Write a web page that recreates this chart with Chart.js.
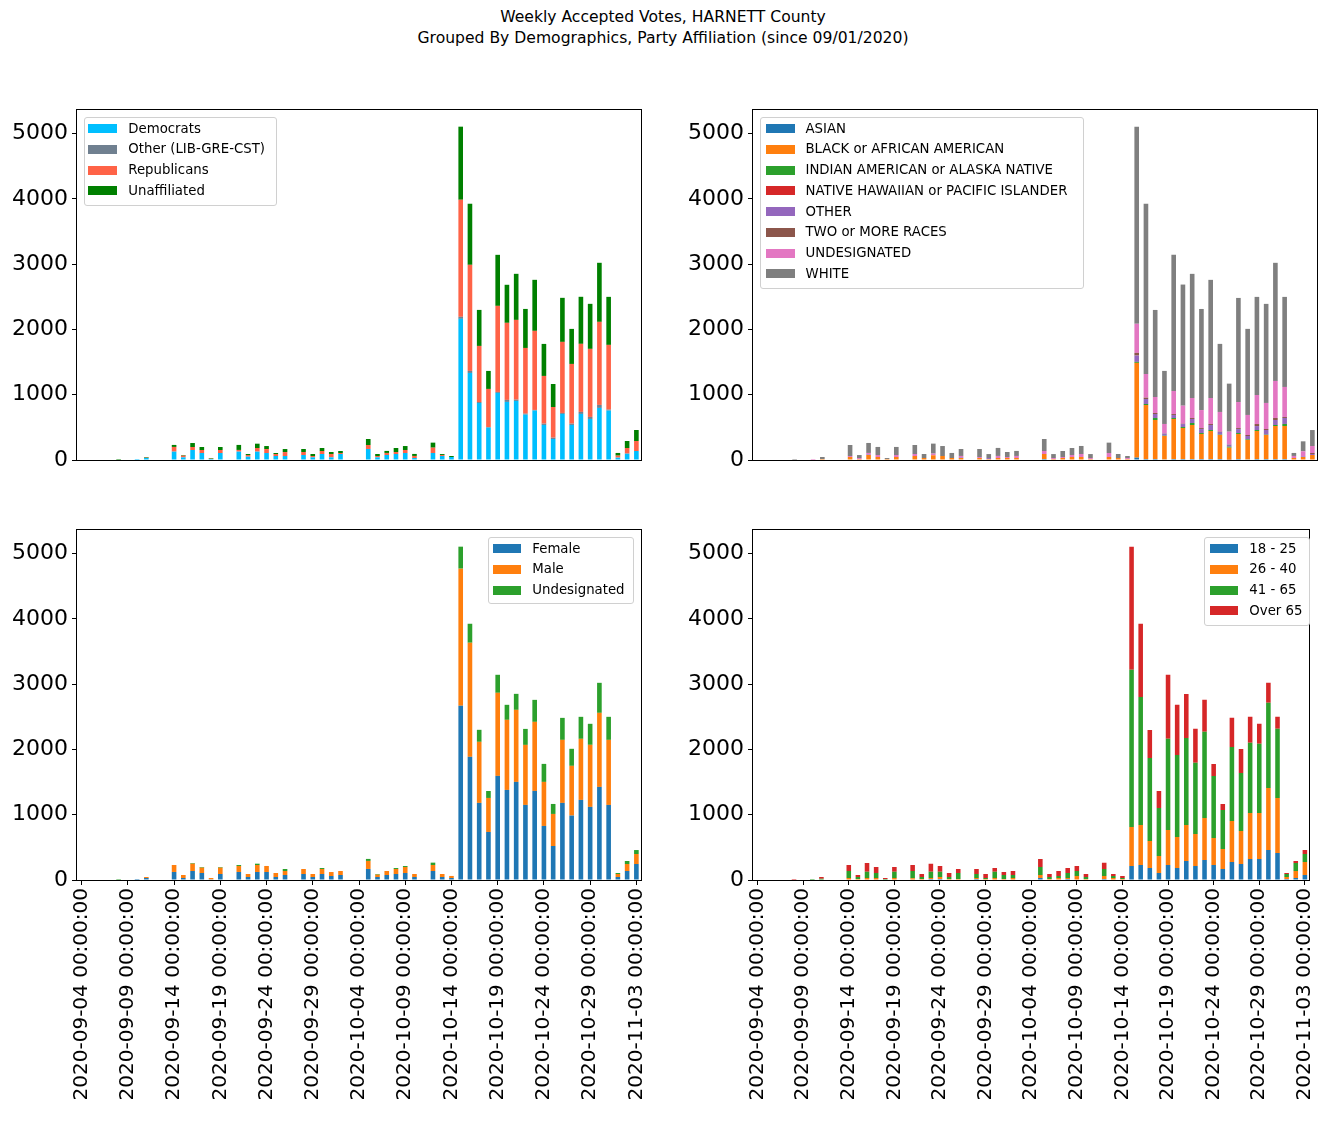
<!DOCTYPE html>
<html><head><meta charset="utf-8">
<script src="https://cdn.jsdelivr.net/npm/chart.js@4.4.1/dist/chart.umd.min.js"></script>
<style>
html,body{margin:0;padding:0;background:#fff;}
body{width:1332px;height:1137px;position:relative;overflow:hidden;font-family:"DejaVu Sans",sans-serif;color:#000;}
canvas{position:absolute;}
#title{position:absolute;left:-3px;width:1332px;top:7px;text-align:center;font-size:15.6px;line-height:21px;}
.legend{position:absolute;border:1px solid #d0d0d0;border-radius:3px;background:rgba(255,255,255,0.8);box-sizing:border-box;}
.patch{position:absolute;height:9px;}
.ltext{position:absolute;font-size:13.3px;line-height:16px;white-space:nowrap;}
</style></head>
<body>
<div id="title">Weekly Accepted Votes, HARNETT County<br>Grouped By Demographics, Party Affiliation (since 09/01/2020)</div>
<canvas id="c1" width="670" height="400" style="left:0;top:90px"></canvas>
<canvas id="c2" width="662" height="400" style="left:670px;top:90px"></canvas>
<canvas id="c3" width="670" height="627" style="left:0;top:510px"></canvas>
<canvas id="c4" width="662" height="627" style="left:670px;top:510px"></canvas>
<script>
// ---------- categories ----------
const dates = [
"2020-09-04 00:00:00","2020-09-05 00:00:00","2020-09-06 00:00:00","2020-09-07 00:00:00","2020-09-08 00:00:00",
"2020-09-09 00:00:00","2020-09-10 00:00:00","2020-09-11 00:00:00","2020-09-12 00:00:00","2020-09-13 00:00:00",
"2020-09-14 00:00:00","2020-09-15 00:00:00","2020-09-16 00:00:00","2020-09-17 00:00:00","2020-09-18 00:00:00",
"2020-09-19 00:00:00","2020-09-20 00:00:00","2020-09-21 00:00:00","2020-09-22 00:00:00","2020-09-23 00:00:00",
"2020-09-24 00:00:00","2020-09-25 00:00:00","2020-09-26 00:00:00","2020-09-27 00:00:00","2020-09-28 00:00:00",
"2020-09-29 00:00:00","2020-09-30 00:00:00","2020-10-01 00:00:00","2020-10-02 00:00:00","2020-10-03 00:00:00",
"2020-10-04 00:00:00","2020-10-05 00:00:00","2020-10-06 00:00:00","2020-10-07 00:00:00","2020-10-08 00:00:00",
"2020-10-09 00:00:00","2020-10-10 00:00:00","2020-10-11 00:00:00","2020-10-12 00:00:00","2020-10-13 00:00:00",
"2020-10-14 00:00:00","2020-10-15 00:00:00","2020-10-16 00:00:00","2020-10-17 00:00:00","2020-10-18 00:00:00",
"2020-10-19 00:00:00","2020-10-20 00:00:00","2020-10-21 00:00:00","2020-10-22 00:00:00","2020-10-23 00:00:00",
"2020-10-24 00:00:00","2020-10-25 00:00:00","2020-10-26 00:00:00","2020-10-27 00:00:00","2020-10-28 00:00:00",
"2020-10-29 00:00:00","2020-10-30 00:00:00","2020-10-31 00:00:00","2020-11-01 00:00:00","2020-11-02 00:00:00",
"2020-11-03 00:00:00"];
const tickEvery = 5;
const yTickStep = 1000;

// ---------- party ----------
const democrats = [0,0,0,0,0,0,15,31,0,0, 128,41,153,107,15,107,0,128,51,128, 107,61,61,0,77,41,92,41,92,0,
  0,169,41,77,92,107,31,0,107,61, 46,2163,1334,874,496,1028,890,905,695,757, 537,322,706,537,706,629,798,757,36,97, 138];
const otherParty = [0,0,0,0,0,0,0,0,0,0, 0,0,0,0,0,0,0,0,0,0, 0,0,0,0,0,0,0,0,0,0,
  0,0,0,0,0,0,0,0,0,0, 0,31,31,15,10,15,31,20,15,10, 20,20,15,20,31,31,46,15,0,0, 0];
const republicans = [0,0,0,0,0,0,0,5,0,0, 72,26,46,46,5,46,0,26,26,56, 61,31,61,0,46,20,46,51,15,0,
  0,61,20,31,31,46,31,0,82,15, 0,1794,1626,859,583,1319,1181,1222,1007,1212, 731,470,1089,915,1043,1043,1273,992,31,87, 153];
const unaffiliated = [0,0,0,0,15,0,0,10,0,0, 31,10,61,46,10,46,0,77,15,66, 46,15,46,0,46,31,46,31,31,0,
  0,92,31,31,61,61,31,0,77,15, 15,1120,936,552,276,782,583,706,598,782, 491,353,675,537,721,690,905,736,41,107, 169];

// ---------- race ----------
const asian = [0,0,0,0,0,0,0,0,0,0, 0,0,0,0,0,0,0,0,0,0, 0,0,0,0,0,0,0,0,0,0,
  0,15,0,0,0,0,0,0,0,0, 0,36,15,15,10,15,15,15,15,15, 15,5,15,10,15,15,15,15,0,0, 0];
const black = [0,0,0,0,0,0,0,15,0,0, 46,15,77,46,15,46,0,61,31,72, 61,31,31,0,31,15,31,31,31,0,
  0,77,15,31,46,46,15,0,46,31, 15,1452,828,598,358,613,475,521,383,429, 368,184,383,297,429,368,506,506,31,46, 77];
const indian = [0,0,0,0,0,0,0,0,0,0, 0,0,0,0,0,0,0,0,0,0, 0,0,0,0,0,0,0,0,0,0,
  0,0,0,0,0,0,0,0,0,0, 0,15,15,31,5,15,15,31,15,15, 5,15,15,10,15,5,15,31,0,0, 0];
const hawaiian = [0,0,0,0,0,0,0,0,0,0, 0,0,0,0,0,0,0,0,0,0, 0,0,0,0,0,0,0,0,0,0,
  0,0,0,0,0,0,0,0,0,0, 0,0,0,0,0,0,0,0,0,0, 0,0,0,0,0,0,0,0,0,0, 0];
const otherRace = [0,0,0,0,0,0,0,0,0,0, 0,0,10,0,0,0,0,0,0,0, 0,0,10,0,0,15,0,0,0,0,
  0,0,0,0,0,0,0,0,0,0, 0,97,77,61,31,46,46,61,61,77, 41,31,61,51,61,72,77,92,0,10, 15];
const twoRaces = [0,0,0,0,0,0,0,0,0,0, 0,0,0,0,0,0,0,0,0,0, 0,0,0,0,0,0,0,0,0,0,
  0,0,0,0,0,0,0,0,0,0, 0,41,20,15,5,15,5,15,15,15, 5,5,15,15,31,15,31,15,0,0, 15];
const undesRace = [0,0,0,0,0,0,15,0,0,0, 15,15,21,31,0,31,0,31,0,26, 0,0,21,0,15,0,31,15,31,0,
  0,46,15,15,31,46,15,0,61,0, 15,445,363,245,143,353,276,307,276,399, 302,194,399,307,445,399,567,460,31,77, 107];
const white = [0,0,0,0,15,0,0,31,0,0, 169,46,153,123,15,123,0,138,61,153, 153,77,107,0,123,61,123,77,77,0,
  0,184,61,92,107,123,61,0,159,61, 31,3021,2607,1334,813,2086,1856,1902,1549,1810, 1043,736,1595,1319,1503,1518,1810,1380,46,153, 245];

// ---------- gender ----------
const female = [0,0,0,0,0,0,15,31,0,0, 123,31,138,107,10,92,0,123,46,123, 123,46,77,0,92,46,92,61,77,0,
  0,169,46,77,92,107,46,0,138,46, 31,2669,1887,1181,736,1595,1380,1503,1150,1365, 828,521,1181,987,1227,1120,1426,1150,46,138, 245];
const male = [0,0,0,0,0,0,0,15,0,0, 107,46,112,82,21,97,0,92,46,107, 92,61,61,0,77,46,77,61,61,0,
  0,123,36,61,77,92,46,0,92,46, 31,2101,1748,936,521,1273,1074,1104,920,1058, 675,491,966,762,936,951,1135,997,46,107, 153];
const undesGender = [0,0,0,0,15,0,0,0,0,0, 0,0,10,10,0,10,0,15,0,20, 0,0,31,0,0,0,15,0,0,0,
  0,31,10,0,15,15,0,0,36,0, 0,337,291,184,107,276,230,245,245,337, 276,153,337,261,337,322,460,353,15,46, 61];

// ---------- age ----------
const age18_25 = [0,0,0,0,0,0,0,0,0,0, 0,0,0,0,0,0,0,0,0,15, 15,0,0,0,15,0,0,0,0,0,
  0,31,0,0,15,0,0,0,15,0, 0,215,230,184,107,230,184,291,215,307, 230,169,276,245,322,322,460,414,15,31, 77];
const age26_40 = [0,0,0,0,0,0,0,0,0,0, 31,15,31,31,0,31,0,26,15,15, 31,15,15,0,15,15,31,15,31,0,
  0,46,15,31,15,61,15,0,46,31, 15,598,613,414,261,537,475,552,491,644, 414,307,629,506,706,706,951,844,31,107, 199];
const age41_65 = [0,0,0,0,0,0,15,20,0,0, 107,31,97,77,15,97,0,112,31,97, 82,31,92,0,61,15,97,61,46,0,
  0,123,31,31,77,77,31,0,107,31, 15,2408,1963,1273,736,1396,1258,1334,1089,1319, 951,598,1135,890,1074,1058,1304,1058,46,123, 123];
const over65 = [0,0,0,0,15,0,0,26,0,0, 92,31,133,92,15,72,0,92,46,123, 87,61,61,0,77,61,56,46,61,0,
  0,123,46,77,77,77,46,0,97,31, 31,1887,1120,429,261,982,767,675,521,491, 184,92,445,368,399,307,307,184,15,31, 61];

const partySeries = [
  {label:"Democrats", data:democrats, color:"#00bfff"},
  {label:"Other (LIB-GRE-CST)", data:otherParty, color:"#708090"},
  {label:"Republicans", data:republicans, color:"#ff6347"},
  {label:"Unaffiliated", data:unaffiliated, color:"#008000"}];
const raceSeries = [
  {label:"ASIAN", data:asian, color:"#1f77b4"},
  {label:"BLACK or AFRICAN AMERICAN", data:black, color:"#ff7f0e"},
  {label:"INDIAN AMERICAN or ALASKA NATIVE", data:indian, color:"#2ca02c"},
  {label:"NATIVE HAWAIIAN or PACIFIC ISLANDER", data:hawaiian, color:"#d62728"},
  {label:"OTHER", data:otherRace, color:"#9467bd"},
  {label:"TWO or MORE RACES", data:twoRaces, color:"#8c564b"},
  {label:"UNDESIGNATED", data:undesRace, color:"#e377c2"},
  {label:"WHITE", data:white, color:"#7f7f7f"}];
const genderSeries = [
  {label:"Female", data:female, color:"#1f77b4"},
  {label:"Male", data:male, color:"#ff7f0e"},
  {label:"Undesignated", data:undesGender, color:"#2ca02c"}];
const ageSeries = [
  {label:"18 - 25", data:age18_25, color:"#1f77b4"},
  {label:"26 - 40", data:age26_40, color:"#ff7f0e"},
  {label:"41 - 65", data:age41_65, color:"#2ca02c"},
  {label:"Over 65", data:over65, color:"#d62728"}];

const FONT = "DejaVu Sans";
const XTICK_SIZE = 20;
const YTICK_SIZE = 22;

const framePlugin = {
  id: 'frame',
  afterDraw(chart) {
    const a = chart.chartArea, ctx = chart.ctx;
    ctx.save();
    ctx.strokeStyle = '#000';
    ctx.lineWidth = 1;
    ctx.strokeRect(Math.round(a.left) - 0.5, Math.round(a.top) - 0.5, Math.round(a.right - a.left) + 1, Math.round(a.bottom - a.top) + 1);
    ctx.restore();
  }
};

function makeChart(id, series, cfg) {
  const n = dates.length;
  let maxTotal = 0;
  for (let i = 0; i < n; i++) {
    let s = 0; series.forEach(d => s += d.data[i]);
    if (s > maxTotal) maxTotal = s;
  }
  const ymax = maxTotal * 1.05;
  const xScale = cfg.showX ? {
    type: 'category', stacked: true, offset: true,
    border: {display: false},
    grid: {display: true, drawOnChartArea: false, drawTicks: true, tickLength: 5, color: '#000', lineWidth: 1, offset: false},
    ticks: {autoSkip: false, maxRotation: 90, minRotation: 90, padding: 3, color: '#000',
      font: {family: FONT, size: XTICK_SIZE},
      callback: function(v, i) { return i % tickEvery === 0 ? this.getLabelForValue(v) : null; }},
    afterFit: s => { s.height = cfg.xh; }
  } : {type: 'category', stacked: true, offset: true, display: false};
  return new Chart(document.getElementById(id), {
    type: 'bar',
    data: {
      labels: dates,
      datasets: series.map(d => ({label: d.label, data: d.data, backgroundColor: d.color, borderWidth: 0,
        barPercentage: 0.5, categoryPercentage: 1.0}))
    },
    options: {
      responsive: false, animation: false, devicePixelRatio: 1,
      layout: {padding: cfg.padding},
      plugins: {legend: {display: false}, tooltip: {enabled: false}, title: {display: false}},
      scales: {
        x: xScale,
        y: {
          stacked: true, min: 0, max: ymax,
          border: {display: false},
          grid: {drawOnChartArea: false, drawTicks: true, tickLength: 5, color: '#000', lineWidth: 1},
          ticks: {color: '#000', padding: 4, font: {family: FONT, size: YTICK_SIZE},
            callback: v => String(v)},
          afterBuildTicks: s => {
            const t = [];
            for (let v = 0; v <= s.max; v += yTickStep) t.push({value: v});
            s.ticks = t;
          },
          afterFit: s => { s.width = cfg.yw; }
        }
      }
    },
    plugins: [framePlugin]
  });
}

makeChart('c1', partySeries, {showX: false, yw: 77, padding: {left: 0, right: 29, top: 20, bottom: 30}});
makeChart('c2', raceSeries, {showX: false, yw: 83, padding: {left: 0, right: 15, top: 20, bottom: 30}});
makeChart('c3', genderSeries, {showX: true, yw: 77, xh: 257, padding: {left: 0, right: 29, top: 20, bottom: 0}});
makeChart('c4', ageSeries, {showX: true, yw: 83, xh: 257, padding: {left: 0, right: 15, top: 20, bottom: 0}});

// ---------- legends (HTML) ----------
function makeLegend(series, box) {
  const el = document.createElement('div');
  el.className = 'legend';
  el.style.left = box.left + 'px'; el.style.top = box.top + 'px';
  el.style.width = box.width + 'px'; el.style.height = box.height + 'px';
  document.body.appendChild(el);
  series.forEach((d, i) => {
    const cy = box.first + i * box.step;
    const p = document.createElement('div');
    p.className = 'patch';
    p.style.left = (box.patchL - box.left - 1) + 'px';
    p.style.width = box.patchW + 'px';
    p.style.top = (cy - box.top - 1 - 4.5) + 'px';
    p.style.background = d.color;
    el.appendChild(p);
    const t = document.createElement('div');
    t.className = 'ltext';
    t.style.left = (box.textL - box.left - 1) + 'px';
    t.style.top = (cy - box.top - 1 - 8) + 'px';
    t.textContent = d.label;
    el.appendChild(t);
  });
}
makeLegend(partySeries, {left: 84, top: 117, width: 193, height: 89, first: 128.7, step: 20.75, patchL: 88.3, patchW: 28.5, textL: 128.3});
makeLegend(raceSeries, {left: 760, top: 117, width: 324, height: 172, first: 128.7, step: 20.75, patchL: 766, patchW: 28.5, textL: 805.5});
makeLegend(genderSeries, {left: 488, top: 537, width: 146, height: 67, first: 548.7, step: 20.75, patchL: 492.7, patchW: 28, textL: 532.3});
makeLegend(ageSeries, {left: 1204, top: 537, width: 106, height: 89, first: 548.7, step: 20.75, patchL: 1210, patchW: 28, textL: 1249.3});
</script>
</body></html>
